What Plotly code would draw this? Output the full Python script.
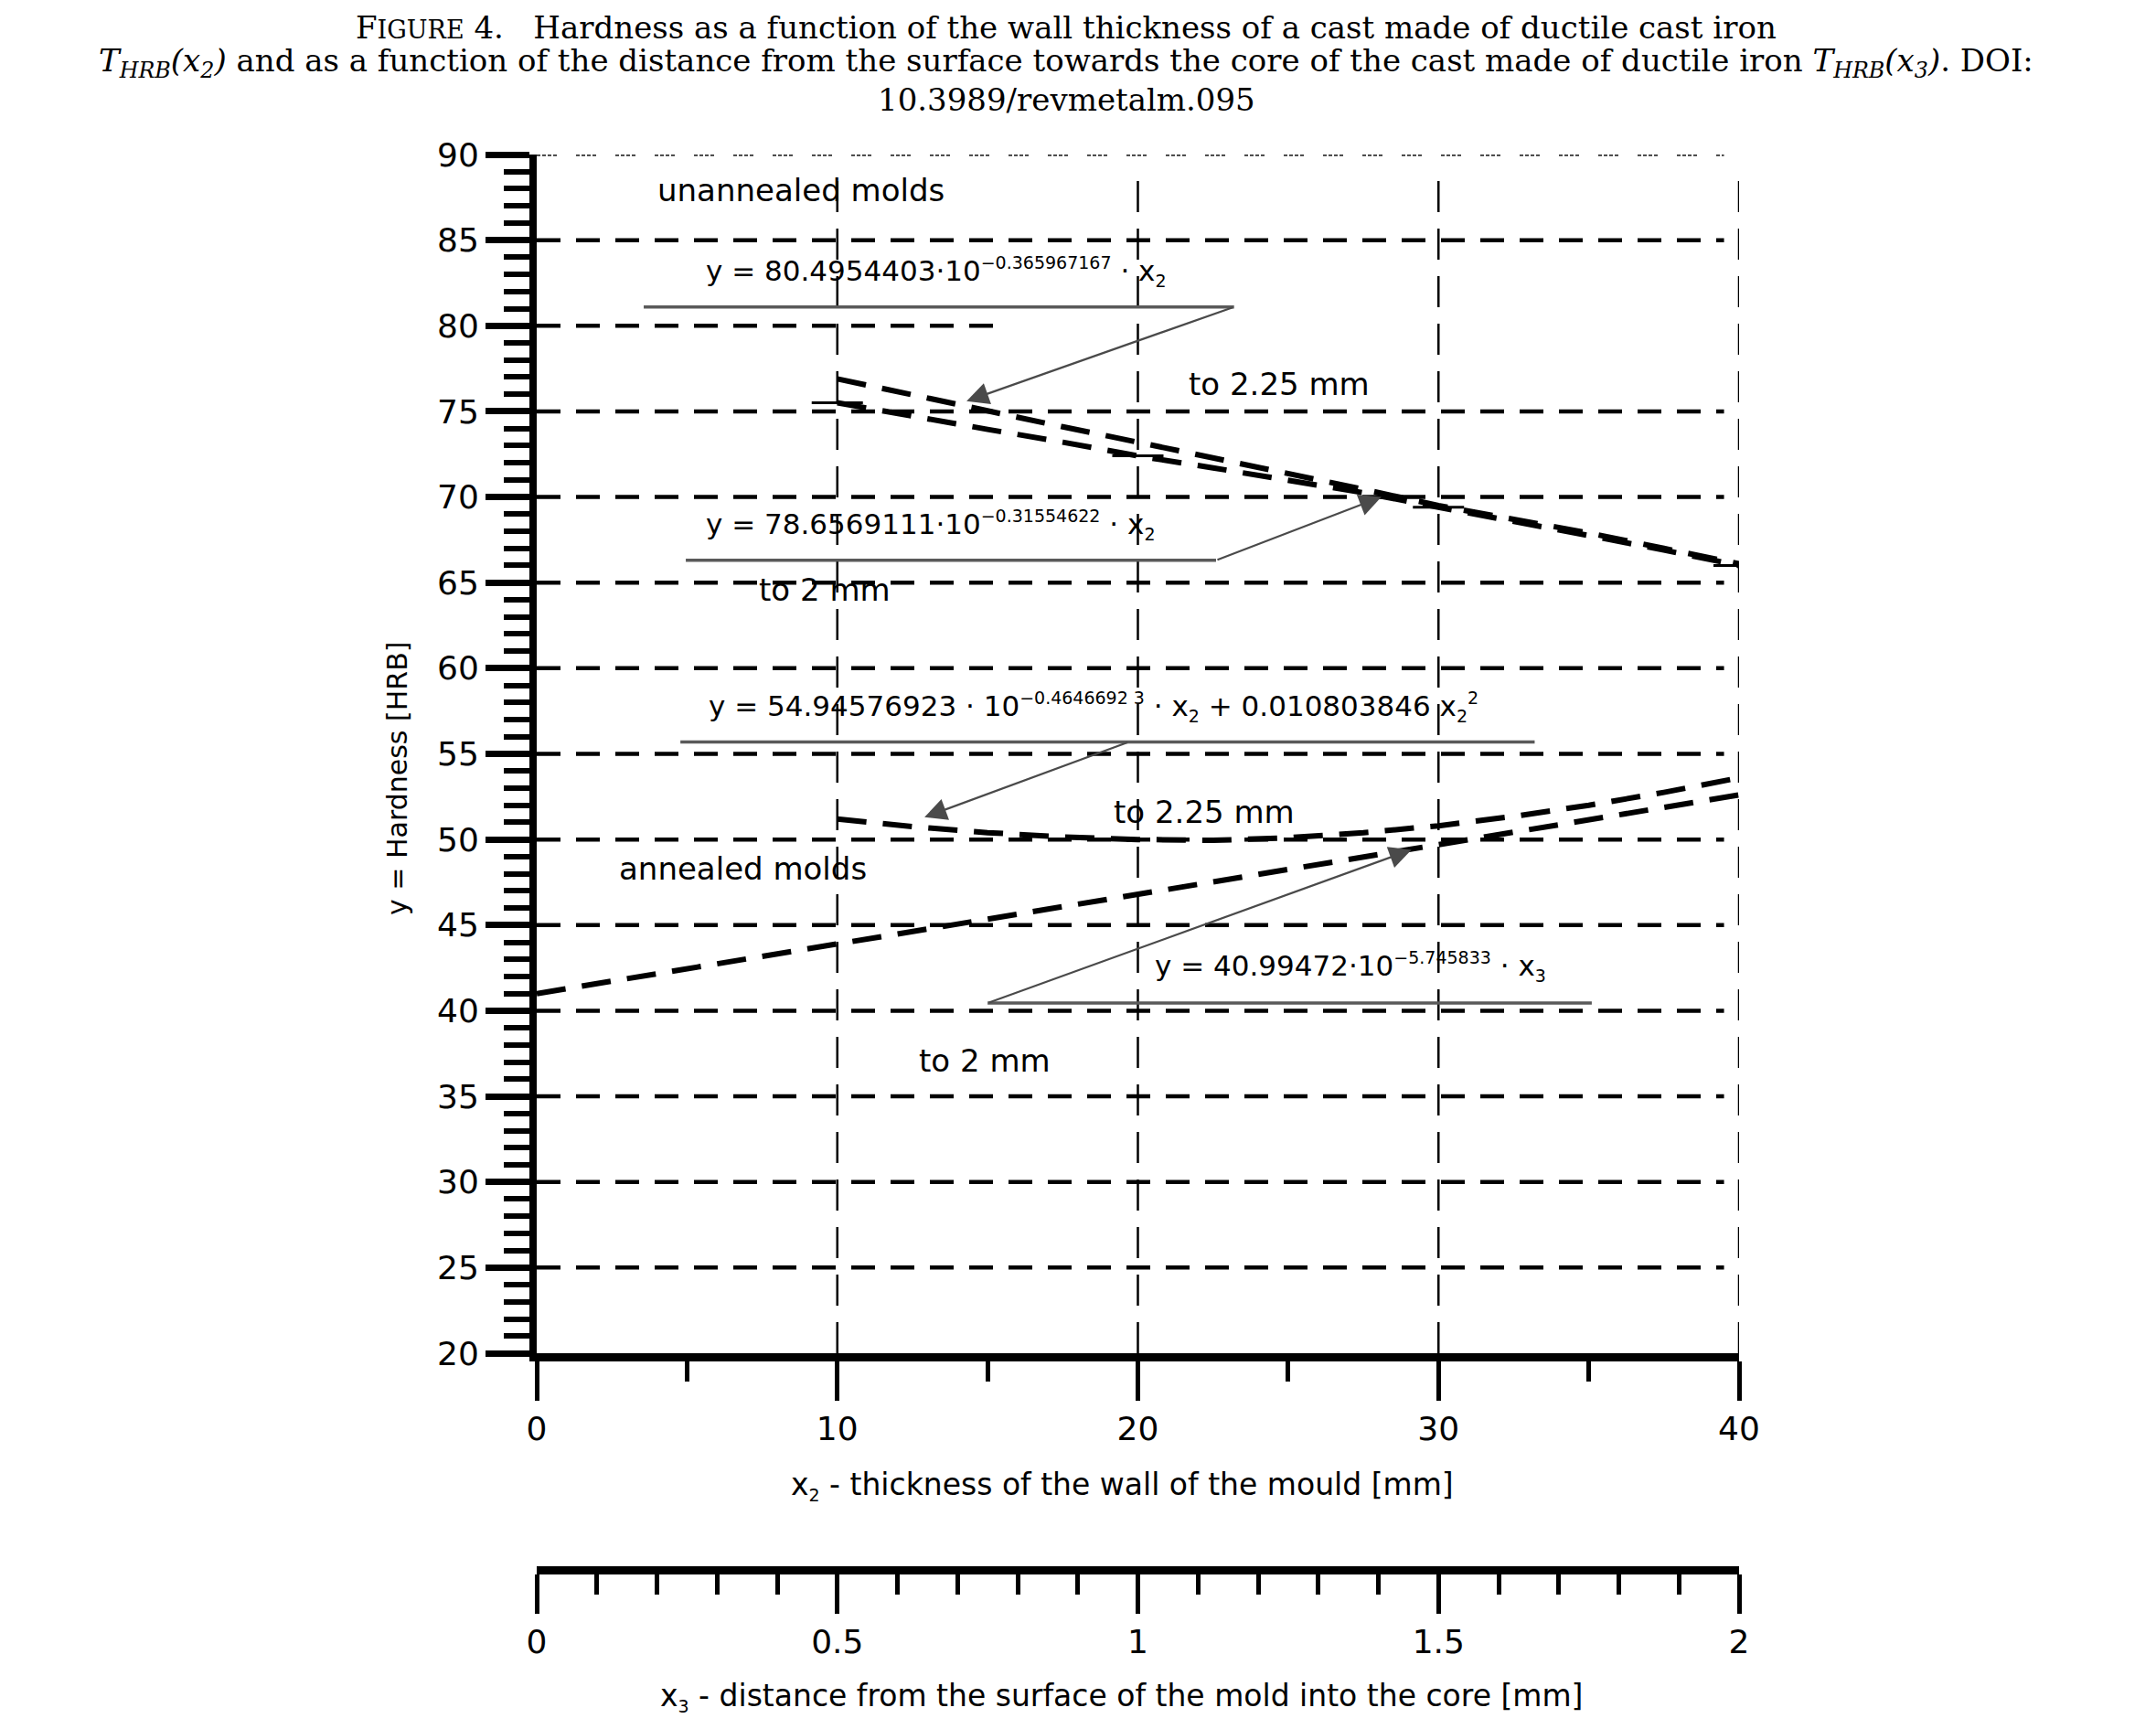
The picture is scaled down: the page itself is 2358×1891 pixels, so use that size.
import plotly.graph_objects as go

# ---------------- data ----------------
x2_unannealed = [10, 12.5, 15, 17.5, 20, 22.5, 25, 27.5, 30, 32.5, 35, 37.5, 40]
hrb_unannealed_a = [76.9, 75.95, 75.05, 74.1, 73.2, 72.3, 71.4, 70.45, 69.5, 68.7, 67.9, 67.0, 66.1]
hrb_unannealed_b = [75.5, 74.7, 73.95, 73.2, 72.4, 71.7, 71.0, 70.25, 69.4, 68.6, 67.75, 66.9, 66.0]

x2_annealed = [10, 12.5, 15, 17.5, 20, 22.5, 25, 27.5, 30, 32.5, 35, 37.5, 40]
hrb_annealed_x2 = [51.2, 50.75, 50.4, 50.15, 50.0, 49.95, 50.1, 50.4, 50.8, 51.35, 52.0, 52.75, 53.6]

x3_annealed = [0, 0.25, 0.5, 0.75, 1.0, 1.25, 1.5, 1.75, 2.0]
hrb_annealed_x3 = [41.0, 42.45, 43.9, 45.35, 46.8, 48.25, 49.7, 51.15, 52.6]

marker_x = [10, 20, 30, 40]

x2_ticks = [0, 10, 20, 30, 40]
x3_ticks = [0, 0.5, 1, 1.5, 2]
x3_ticklabels = ["0", "0.5", "1", "1.5", "2"]
y_ticks = [20, 25, 30, 35, 40, 45, 50, 55, 60, 65, 70, 75, 80, 85, 90]

# ---------------- layout constants (figure pixels) ----------------
W, H = 2358, 1891
X0, X1 = 579, 1894          # pixel positions of x=0 and x=40
YT, YB = 161, 1472          # pixel positions of y=90 and y=20
X3_AXIS_PX = 1709

SANS = "DejaVu Sans"
SERIF = "DejaVu Serif"

fig = go.Figure()

# curves
curve_line = dict(color="black", width=6, dash="32px,18px")
fig.add_trace(go.Scatter(x=x2_unannealed, y=hrb_unannealed_a, mode="lines",
                         line=curve_line, xaxis="x", yaxis="y", showlegend=False))
fig.add_trace(go.Scatter(x=x2_unannealed, y=hrb_unannealed_b, mode="lines",
                         line=curve_line, xaxis="x", yaxis="y", showlegend=False))
mk_y = [hrb_unannealed_b[x2_unannealed.index(v)] for v in marker_x]
fig.add_trace(go.Scatter(x=marker_x, y=mk_y, mode="markers",
                         marker=dict(symbol="line-ew", size=40,
                                     line=dict(color="black", width=3)),
                         xaxis="x", yaxis="y", showlegend=False))
fig.add_trace(go.Scatter(x=x2_annealed, y=hrb_annealed_x2, mode="lines",
                         line=curve_line, xaxis="x", yaxis="y", showlegend=False))
fig.add_trace(go.Scatter(x=x3_annealed, y=hrb_annealed_x3, mode="lines",
                         line=curve_line, xaxis="x2", yaxis="y", showlegend=False))

shapes = []
# horizontal grid
for yv in y_ticks[1:-1]:
    xend = 15.5 if yv == 80 else 39.5
    shapes.append(dict(type="line", xref="x", yref="y", x0=0, x1=xend, y0=yv, y1=yv,
                       line=dict(color="black", width=4.5, dash="26px,17px"), layer="below"))
shapes.append(dict(type="line", xref="x", yref="y", x0=0, x1=39.5, y0=90, y1=90,
                   line=dict(color="#333", width=3.5,
                             dash="4px,2px,4px,2px,4px,2px,4px,21px"), layer="below"))
# vertical grid
for xv in x2_ticks[1:]:
    shapes.append(dict(type="line", xref="x", yref="y", x0=xv, x1=xv, y0=20, y1=89.1,
                       line=dict(color="black", width=2.5, dash="34px,18px"), layer="below"))

# equation underlines
underlines = [(3.56, 23.2, 81.1), (4.96, 22.6, 66.3), (4.78, 33.2, 55.7), (15.0, 35.1, 40.45)]
for xa, xb, yy in underlines:
    shapes.append(dict(type="line", xref="x", yref="y", x0=xa, x1=xb, y0=yy, y1=yy,
                       line=dict(color="#5a5a5a", width=3.5)))

annotations = []
# arrows (tip, tail)
arrows = [((14.3, 75.6), (23.2, 81.1)),
          ((28.1, 70.0), (22.6, 66.3)),
          ((12.9, 51.3), (19.7, 55.7)),
          ((29.1, 49.4), (15.0, 40.45))]
for (tx, ty), (sx, sy) in arrows:
    annotations.append(dict(x=tx, y=ty, ax=sx, ay=sy, xref="x", yref="y",
                            axref="x", ayref="y", text="", showarrow=True,
                            arrowhead=2, arrowsize=2.2, arrowwidth=2.2,
                            arrowcolor="#4a4a4a"))

def sup(s):
    return "<sup><span style='font-size:19px'>" + s + "</span></sup>"

def sub(s):
    return "<sub><span style='font-size:19px'>" + s + "</span></sub>"

eq_font = dict(family=SANS, size=31, color="black")
lbl_font = dict(family=SANS, size=34, color="black")

equations = [
    (5.57, 83.16, "y = 80.4954403·10" + sup("−0.365967167") + " · x" + sub("2")),
    (5.57, 68.4, "y = 78.6569111·10" + sup("−0.31554622") + " · x" + sub("2")),
    (5.66, 57.75, "y = 54.94576923 · 10" + sup("−0.4646692 3") + " · x" + sub("2")
     + " + 0.010803846 x" + sub("2") + sup("2")),
    (20.5, 42.6, "y = 40.99472·10" + sup("−5.745833") + " · x" + sub("3")),
]
for xx, yy, t in equations:
    annotations.append(dict(x=xx, y=yy, xref="x", yref="y", text=t, showarrow=False,
                            xanchor="left", yanchor="middle", font=eq_font))

labels = [
    (8.8, 87.9, "unannealed molds"),
    (24.7, 76.6, "to 2.25 mm"),
    (9.58, 64.6, "to 2 mm"),
    (22.2, 51.6, "to 2.25 mm"),
    (6.85, 48.3, "annealed molds"),
    (14.9, 37.1, "to 2 mm"),
]
for xx, yy, t in labels:
    annotations.append(dict(x=xx, y=yy, xref="x", yref="y", text=t, showarrow=False,
                            xanchor="center", yanchor="middle", font=lbl_font))

# axis titles
annotations.append(dict(x=426 / W, y=1 - 844 / H, xref="paper", yref="paper",
                        xanchor="center", yanchor="middle",
                        text="y = Hardness [HRB]", textangle=-90, showarrow=False,
                        font=dict(family=SANS, size=30, color="black")))
annotations.append(dict(x=1219 / W, y=1 - 1617 / H, xref="paper", yref="paper",
                        xanchor="center", yanchor="middle",
                        text="x" + sub("2") + " - thickness of the wall of the mould [mm]",
                        showarrow=False, font=dict(family=SANS, size=33, color="black")))
annotations.append(dict(x=1218 / W, y=1 - 1848 / H, xref="paper", yref="paper",
                        xanchor="center", yanchor="middle",
                        text="x" + sub("3") + " - distance from the surface of the mold into the core [mm]",
                        showarrow=False, font=dict(family=SANS, size=33, color="black")))

# title (three lines)
title_font = dict(family=SERIF, size=34, color="black")
TX = 1158 / W
annotations.append(dict(x=TX, y=1.0, xref="paper", yref="paper", xanchor="center",
                        yanchor="top", showarrow=False, font=title_font,
                        text="F<span style='font-size:27px'>IGURE</span> 4.&nbsp;&nbsp; Hardness as a function of the wall thickness of a cast made of ductile cast iron"))
annotations.append(dict(x=TX, y=1 - 61 / H, xref="paper", yref="paper", xanchor="center",
                        yanchor="middle", showarrow=False, font=title_font,
                        text="<i>T<sub>HRB</sub>(x<sub>2</sub>)</i> and as a function of the distance from the surface towards the core of the cast made of ductile iron <i>T<sub>HRB</sub>(x<sub>3</sub>)</i>. DOI:"))
annotations.append(dict(x=TX, y=1 - 101 / H, xref="paper", yref="paper", xanchor="center",
                        yanchor="middle", showarrow=False, font=title_font,
                        text="10.3989/revmetalm.095"))

tick_font = dict(family=SANS, size=36, color="black")
xdom = [X0 / W, X1 / W]
ydom = [1 - YB / H, 1 - YT / H]

fig.update_layout(
    width=W, height=H,
    margin=dict(l=0, r=0, t=0, b=0, autoexpand=False),
    paper_bgcolor="white", plot_bgcolor="white",
    showlegend=False,
    shapes=shapes, annotations=annotations,
    xaxis=dict(domain=xdom, range=[0, 40], anchor="y", automargin=False,
               tickmode="array", tickvals=x2_ticks, ticktext=[str(v) for v in x2_ticks],
               ticks="outside", ticklen=43, tickwidth=5, tickcolor="black",
               minor=dict(dtick=5, tick0=0, ticks="outside", ticklen=22, tickwidth=5,
                          tickcolor="black", showgrid=False),
               showline=True, linewidth=9, linecolor="black",
               showgrid=False, zeroline=False, tickfont=tick_font),
    xaxis2=dict(overlaying="x", anchor="free", position=1 - X3_AXIS_PX / H,
                range=[0, 2], side="bottom", automargin=False,
                tickmode="array", tickvals=x3_ticks, ticktext=x3_ticklabels,
                ticks="outside", ticklen=43, tickwidth=5, tickcolor="black",
                minor=dict(dtick=0.1, tick0=0, ticks="outside", ticklen=22, tickwidth=5,
                           tickcolor="black", showgrid=False),
                showline=True, linewidth=9, linecolor="black",
                showgrid=False, zeroline=False, tickfont=tick_font),
    yaxis=dict(domain=ydom, range=[20, 90], anchor="x", automargin=False,
               tickmode="array", tickvals=y_ticks, ticktext=[str(v) for v in y_ticks],
               ticks="outside", ticklen=48, tickwidth=7, tickcolor="black",
               minor=dict(dtick=1, tick0=20, ticks="outside", ticklen=28, tickwidth=6,
                          tickcolor="black", showgrid=False),
               showline=True, linewidth=8, linecolor="black",
               showgrid=False, zeroline=False, tickfont=tick_font),
)

fig.write_html("out.html")
